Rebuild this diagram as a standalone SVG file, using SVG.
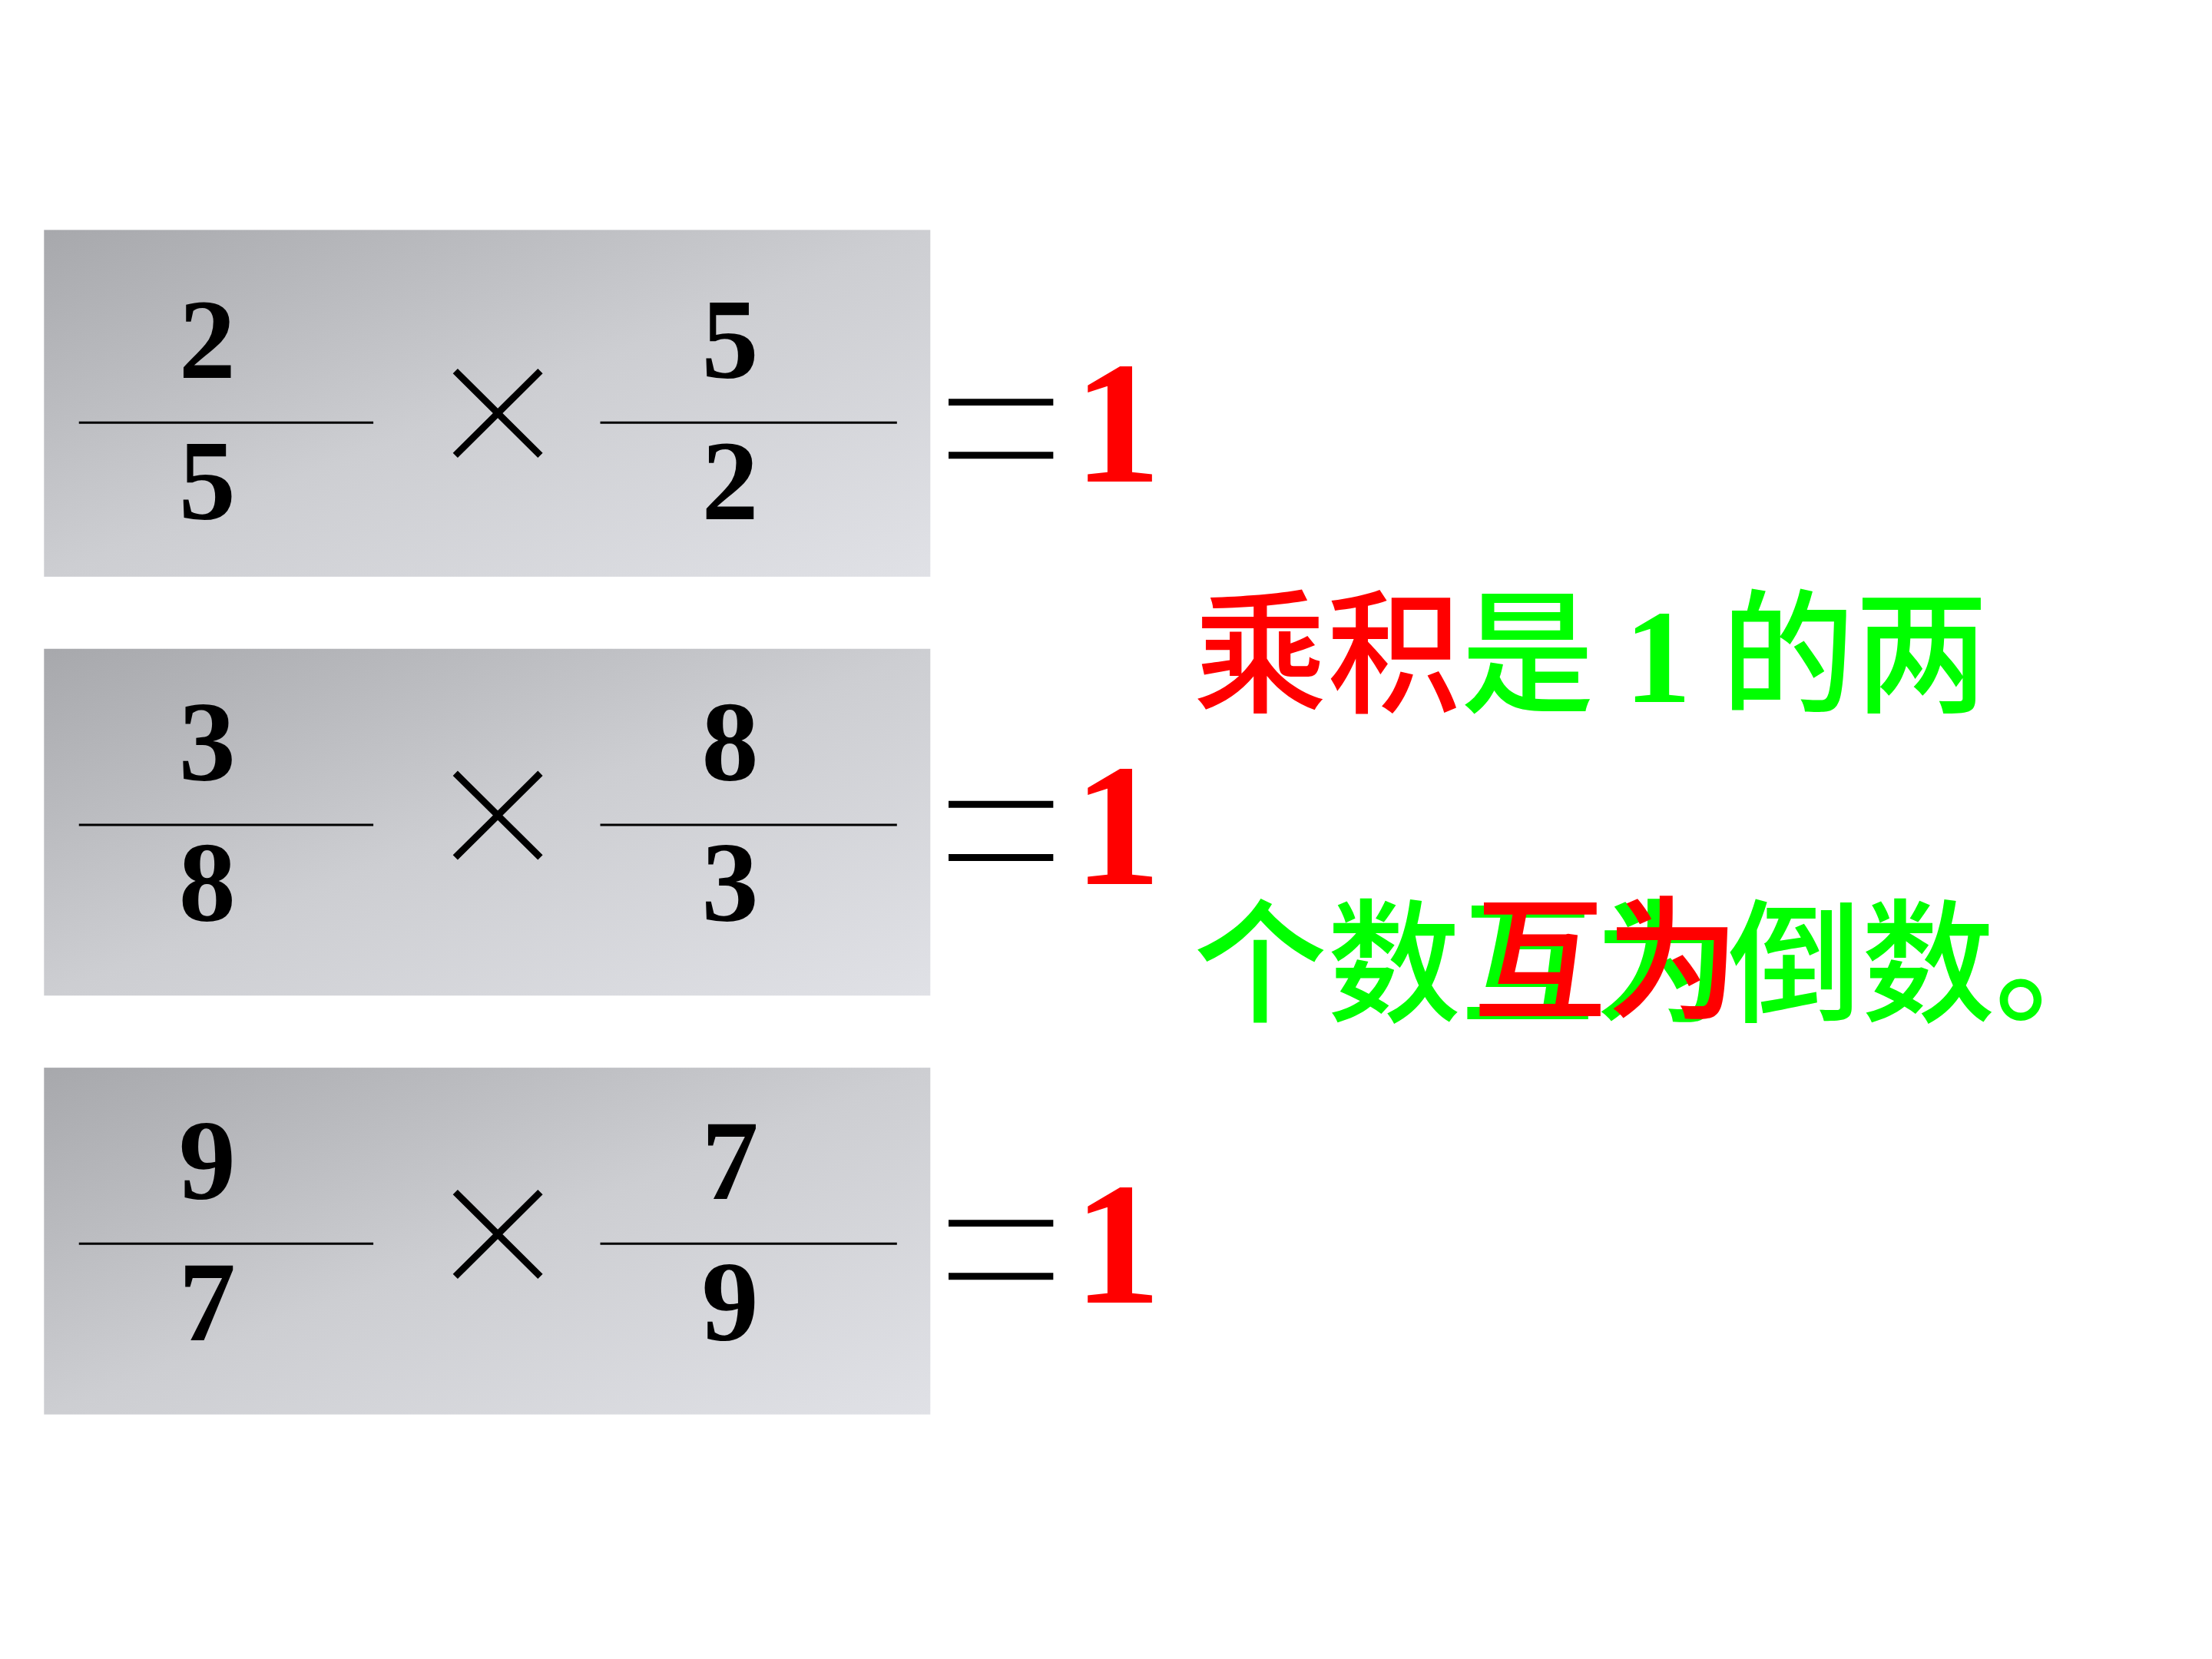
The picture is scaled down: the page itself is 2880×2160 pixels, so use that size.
<svg xmlns="http://www.w3.org/2000/svg" width="2880" height="2160" viewBox="0 0 2880 2160">
<defs>
<linearGradient id="g" x1="0" y1="0" x2="1" y2="1">
<stop offset="0" stop-color="#a7a8ac"/><stop offset="0.5" stop-color="#cdced2"/><stop offset="1" stop-color="#e0e1e6"/>
</linearGradient>
<style>
.d{font-family:"Liberation Serif",serif;font-weight:bold;font-size:150px;text-anchor:middle;fill:#000}
.one{font-family:"Liberation Serif",serif;font-weight:bold;font-size:230px;fill:#f00}
.ln{stroke:#000;stroke-width:3}
.op{stroke:#000;stroke-width:9}
.cn{font-family:"Noto Sans CJK SC",sans-serif;font-size:176px;font-weight:500}
</style>
</defs>
<rect width="2880" height="2160" fill="#fff"/>
<g transform="scale(0.988)">
<g id="row1">
<rect x="58" y="303" width="1168" height="457" fill="url(#g)"/>
<text class="d" x="273" y="498">2</text><line class="ln" x1="104" y1="557" x2="492" y2="557"/><text class="d" x="273" y="684">5</text>
<path class="op" d="M600 489L712 600M712 489L600 600"/>
<text class="d" x="962" y="498">5</text><line class="ln" x1="791" y1="557" x2="1182" y2="557"/><text class="d" x="962" y="684">2</text>
<path class="op" d="M1250 530H1388M1250 600H1388"/>
<text class="one" x="1415" y="635">1</text>
</g>
<g id="row2" transform="translate(0,552)">
<rect x="58" y="303" width="1168" height="457" fill="url(#g)"/>
<g transform="translate(0,-22)">
<text class="d" x="273" y="498">3</text><line class="ln" x1="104" y1="557" x2="492" y2="557"/><text class="d" x="273" y="684">8</text>
<path class="op" d="M600 489L712 600M712 489L600 600"/>
<text class="d" x="962" y="498">8</text><line class="ln" x1="791" y1="557" x2="1182" y2="557"/><text class="d" x="962" y="684">3</text>
<path class="op" d="M1250 530H1388M1250 600H1388"/>
<text class="one" x="1415" y="635">1</text>
</g>
</g>
<g id="row3" transform="translate(0,1104)">
<rect x="58" y="303" width="1168" height="457" fill="url(#g)"/>
<g transform="translate(0,-22)">
<text class="d" x="273" y="498">9</text><line class="ln" x1="104" y1="557" x2="492" y2="557"/><text class="d" x="273" y="684">7</text>
<path class="op" d="M600 489L712 600M712 489L600 600"/>
<text class="d" x="962" y="498">7</text><line class="ln" x1="791" y1="557" x2="1182" y2="557"/><text class="d" x="962" y="684">9</text>
<path class="op" d="M1250 530H1388M1250 600H1388"/>
<text class="one" x="1415" y="635">1</text>
</g>
</g>
<g id="caption">
<text class="cn" x="1573" y="925"><tspan fill="#f00">乘积</tspan><tspan fill="#0f0">是 </tspan><tspan fill="#0f0" font-family="Liberation Serif" font-weight="bold">1</tspan><tspan fill="#0f0"> 的两</tspan></text>
<text class="cn" x="1573" y="1333" fill="#0f0">个数互为倒数。</text>
<text class="cn" x="1941" y="1329" fill="#f00">互为</text>
</g>
</g>
</svg>
